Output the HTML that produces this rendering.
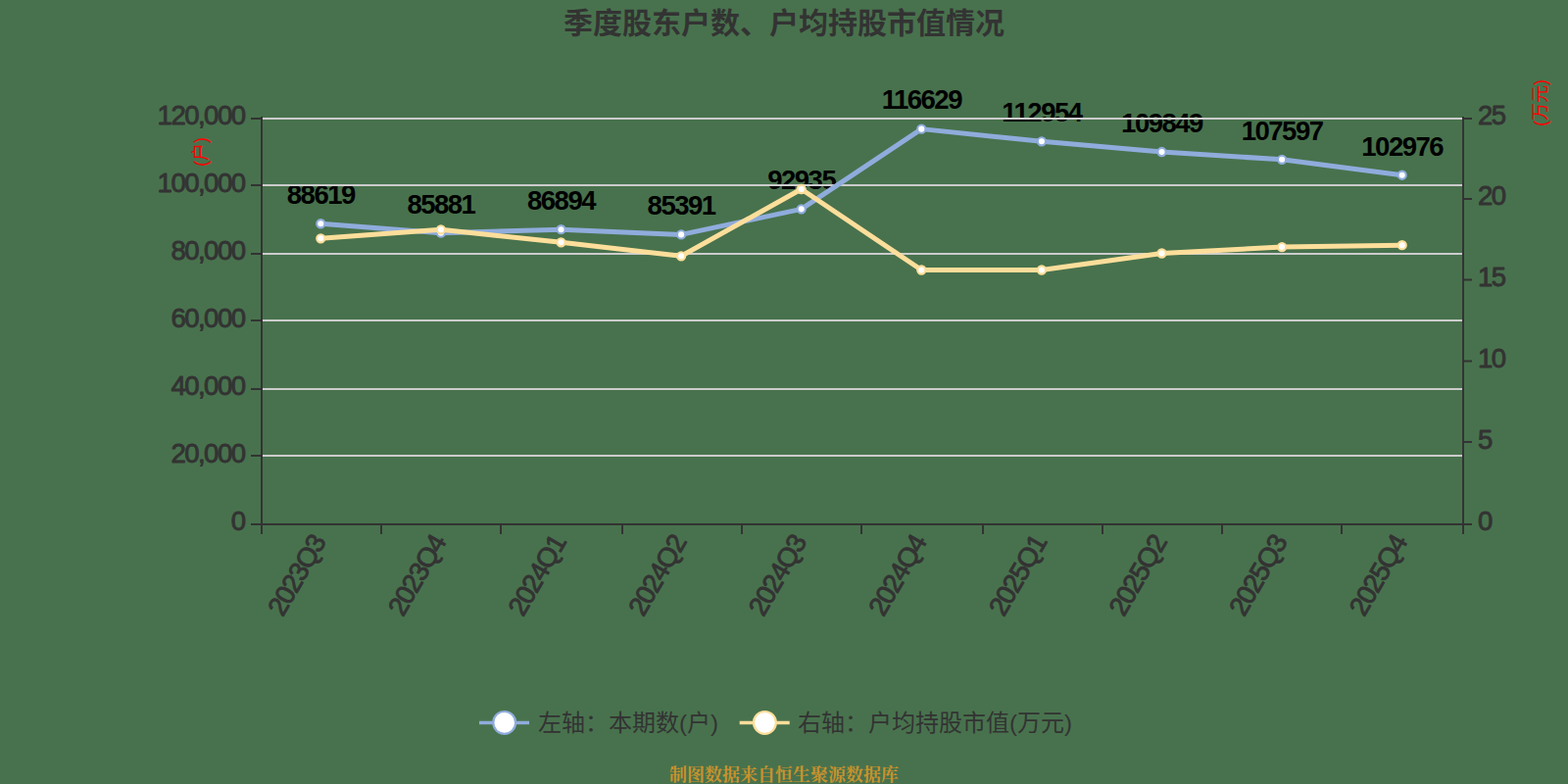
<!DOCTYPE html>
<html lang="zh"><head><meta charset="utf-8"><title>季度股东户数、户均持股市值情况</title>
<style>html,body{margin:0;padding:0}body{width:1600px;height:800px;overflow:hidden;background:#48724d;font-family:"Liberation Sans",sans-serif}
svg{position:absolute;left:0;top:0;display:block}
text{font-family:"Liberation Sans",sans-serif;font-size:27.5px;letter-spacing:-1.5px;stroke-width:0.9;stroke-linejoin:round}
.ax{fill:#333333;stroke:#333333}.dl{fill:#000;stroke:none;font-weight:bold;text-anchor:middle}
.cjk{font-family:"Liberation Sans","Noto Sans CJK SC",sans-serif;letter-spacing:0;stroke:none}
</style></head><body>
<svg width="1600" height="800" viewBox="0 0 1600 800">
<rect width="1600" height="800" fill="#48724d"/>
<g id="title"><text class="cjk" x="575" y="34" style="font-size:30px;font-weight:bold" fill="#333333">季度股东户数、户均持股市值情况</text></g>
<g id="dl" class="dl">
<text x="327.3" y="208.06">88619</text>
<text x="449.9" y="217.51">85881</text>
<text x="572.5" y="214.02">86894</text>
<text x="695.1" y="219.2">85391</text>
<text x="817.7" y="193.17">92935</text>
<text x="940.3" y="111.43">116629</text>
<text x="1062.9" y="124.11">112954</text>
<text x="1185.5" y="134.82">109849</text>
<text x="1308.1" y="142.59">107597</text>
<text x="1430.7" y="158.53">102976</text>
</g>
<g id="grid" stroke="#cccccc" stroke-width="2">
<line x1="268" y1="465" x2="1492" y2="465"/>
<line x1="268" y1="397" x2="1492" y2="397"/>
<line x1="268" y1="327" x2="1492" y2="327"/>
<line x1="268" y1="259" x2="1492" y2="259"/>
<line x1="268" y1="189" x2="1492" y2="189"/>
<line x1="268" y1="121" x2="1492" y2="121"/>
</g>
<g id="axes" stroke="#333333" stroke-width="2" fill="none">
<line x1="267" y1="119" x2="267" y2="545"/>
<line x1="1493" y1="119" x2="1493" y2="545"/>
<line x1="256" y1="535" x2="1502" y2="535"/>
<line x1="256" y1="465" x2="266" y2="465"/>
<line x1="256" y1="397" x2="266" y2="397"/>
<line x1="256" y1="327" x2="266" y2="327"/>
<line x1="256" y1="259" x2="266" y2="259"/>
<line x1="256" y1="189" x2="266" y2="189"/>
<line x1="256" y1="121" x2="266" y2="121"/>
<line x1="1494" y1="451" x2="1502" y2="451"/>
<line x1="1494" y1="368.5" x2="1502" y2="368.5"/>
<line x1="1494" y1="285.5" x2="1502" y2="285.5"/>
<line x1="1494" y1="203" x2="1502" y2="203"/>
<line x1="1494" y1="121" x2="1502" y2="121"/>
<line x1="389" y1="536" x2="389" y2="545"/>
<line x1="511" y1="536" x2="511" y2="545"/>
<line x1="635" y1="536" x2="635" y2="545"/>
<line x1="757" y1="536" x2="757" y2="545"/>
<line x1="879" y1="536" x2="879" y2="545"/>
<line x1="1003" y1="536" x2="1003" y2="545"/>
<line x1="1125" y1="536" x2="1125" y2="545"/>
<line x1="1247" y1="536" x2="1247" y2="545"/>
<line x1="1369" y1="536" x2="1369" y2="545"/>
</g>
<g id="ylab" class="ax" text-anchor="end">
<text x="249.5" y="540.6">0</text>
<text x="249.5" y="471.6">20,000</text>
<text x="249.5" y="402.6">40,000</text>
<text x="249.5" y="333.6">60,000</text>
<text x="249.5" y="264.6">80,000</text>
<text x="249.5" y="195.6">100,000</text>
<text x="249.5" y="126.6">120,000</text>
</g>
<g id="y2lab" class="ax">
<text x="1508" y="540.6">0</text>
<text x="1508" y="457.8">5</text>
<text x="1508" y="375">10</text>
<text x="1508" y="292.2">15</text>
<text x="1508" y="209.4">20</text>
<text x="1508" y="126.6">25</text>
</g>
<g id="xlab" class="ax" text-anchor="end">
<text transform="translate(327.3,550) rotate(-60)" x="0" y="6.6">2023Q3</text>
<text transform="translate(449.9,550) rotate(-60)" x="0" y="6.6">2023Q4</text>
<text transform="translate(572.5,550) rotate(-60)" x="0" y="6.6">2024Q1</text>
<text transform="translate(695.1,550) rotate(-60)" x="0" y="6.6">2024Q2</text>
<text transform="translate(817.7,550) rotate(-60)" x="0" y="6.6">2024Q3</text>
<text transform="translate(940.3,550) rotate(-60)" x="0" y="6.6">2024Q4</text>
<text transform="translate(1062.9,550) rotate(-60)" x="0" y="6.6">2025Q1</text>
<text transform="translate(1185.5,550) rotate(-60)" x="0" y="6.6">2025Q2</text>
<text transform="translate(1308.1,550) rotate(-60)" x="0" y="6.6">2025Q3</text>
<text transform="translate(1430.7,550) rotate(-60)" x="0" y="6.6">2025Q4</text>
</g>
<g id="s1"><polyline points="327.3,228.26 449.9,237.71 572.5,234.22 695.1,239.4 817.7,213.37 940.3,131.63 1062.9,144.31 1185.5,155.02 1308.1,162.79 1430.7,178.73" fill="none" stroke="#8facdc" stroke-width="5" stroke-linejoin="bevel"/>
<circle cx="327.3" cy="228.26" r="4.1" fill="#fff" stroke="#8facdc" stroke-width="2.1"/>
<circle cx="449.9" cy="237.71" r="4.1" fill="#fff" stroke="#8facdc" stroke-width="2.1"/>
<circle cx="572.5" cy="234.22" r="4.1" fill="#fff" stroke="#8facdc" stroke-width="2.1"/>
<circle cx="695.1" cy="239.4" r="4.1" fill="#fff" stroke="#8facdc" stroke-width="2.1"/>
<circle cx="817.7" cy="213.37" r="4.1" fill="#fff" stroke="#8facdc" stroke-width="2.1"/>
<circle cx="940.3" cy="131.63" r="4.1" fill="#fff" stroke="#8facdc" stroke-width="2.1"/>
<circle cx="1062.9" cy="144.31" r="4.1" fill="#fff" stroke="#8facdc" stroke-width="2.1"/>
<circle cx="1185.5" cy="155.02" r="4.1" fill="#fff" stroke="#8facdc" stroke-width="2.1"/>
<circle cx="1308.1" cy="162.79" r="4.1" fill="#fff" stroke="#8facdc" stroke-width="2.1"/>
<circle cx="1430.7" cy="178.73" r="4.1" fill="#fff" stroke="#8facdc" stroke-width="2.1"/>
</g>
<g id="s2"><polyline points="327.3,243.3 449.9,234.3 572.5,247.3 695.1,261.3 817.7,193 940.3,275.5 1062.9,275.5 1185.5,258.5 1308.1,252.1 1430.7,250.2" fill="none" stroke="#fdde9b" stroke-width="5" stroke-linejoin="bevel"/>
<circle cx="327.3" cy="243.3" r="4.1" fill="#fff" stroke="#fdde9b" stroke-width="2.1"/>
<circle cx="449.9" cy="234.3" r="4.1" fill="#fff" stroke="#fdde9b" stroke-width="2.1"/>
<circle cx="572.5" cy="247.3" r="4.1" fill="#fff" stroke="#fdde9b" stroke-width="2.1"/>
<circle cx="695.1" cy="261.3" r="4.1" fill="#fff" stroke="#fdde9b" stroke-width="2.1"/>
<circle cx="817.7" cy="193" r="4.1" fill="#fff" stroke="#fdde9b" stroke-width="2.1"/>
<circle cx="940.3" cy="275.5" r="4.1" fill="#fff" stroke="#fdde9b" stroke-width="2.1"/>
<circle cx="1062.9" cy="275.5" r="4.1" fill="#fff" stroke="#fdde9b" stroke-width="2.1"/>
<circle cx="1185.5" cy="258.5" r="4.1" fill="#fff" stroke="#fdde9b" stroke-width="2.1"/>
<circle cx="1308.1" cy="252.1" r="4.1" fill="#fff" stroke="#fdde9b" stroke-width="2.1"/>
<circle cx="1430.7" cy="250.2" r="4.1" fill="#fff" stroke="#fdde9b" stroke-width="2.1"/>
</g>
<g id="yname">
<text class="cjk" transform="translate(211,170) rotate(-90)" style="font-size:18px" fill="#f00">(户)</text>
</g>
<g id="y2name">
<text class="cjk" transform="translate(1578,129) rotate(-90)" style="font-size:18px" fill="#f00">(万元)</text>
</g>
<g id="legend">
<line x1="489" y1="737.5" x2="540" y2="737.5" stroke="#8facdc" stroke-width="3.4"/>
<circle cx="514.7" cy="737.4" r="11.4" fill="#fff" stroke="#8facdc" stroke-width="2.2"/>
<text class="cjk" x="549" y="745.8" style="font-size:24px" fill="#333333">左轴：本期数(户)</text>
<line x1="754.7" y1="737.5" x2="805.7" y2="737.5" stroke="#fdde9b" stroke-width="3.4"/>
<circle cx="780.4" cy="737.4" r="11.4" fill="#fff" stroke="#fdde9b" stroke-width="2.2"/>
<text class="cjk" x="814" y="745.8" style="font-size:24px" fill="#333333">右轴：户均持股市值(万元)</text>
</g>
<g id="footer"><text x="683" y="796.6" style='font-family:"Liberation Serif","Noto Serif CJK SC",serif;font-size:18px;font-weight:bold;letter-spacing:0;stroke:none' fill="#c9922c">制图数据来自恒生聚源数据库</text></g>
</svg>
</body></html>
